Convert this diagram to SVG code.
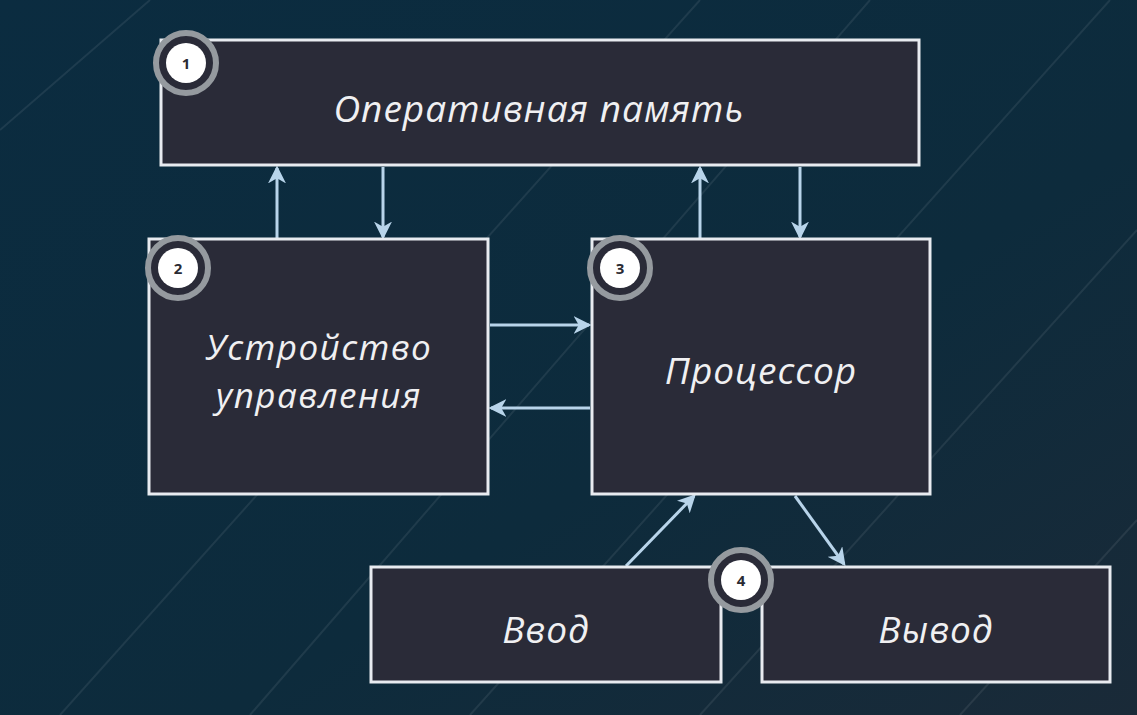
<svg xmlns="http://www.w3.org/2000/svg" width="1137" height="715" viewBox="0 0 1137 715">
<defs>
<linearGradient id="bg" x1="0" y1="0" x2="1" y2="1">
<stop offset="0" stop-color="#0b2c40"/>
<stop offset="0.6" stop-color="#0d2b3c"/>
<stop offset="1" stop-color="#1a2a38"/>
</linearGradient>
<marker id="ah2" viewBox="0 0 14 14" refX="12" refY="7" markerWidth="18" markerHeight="18" markerUnits="userSpaceOnUse" orient="auto">
<path d="M0,0 L14,7 L0,14 L4,7 Z" fill="#b8d4ea"/>
</marker>
</defs>
<style>
.box{fill:#2a2b38;stroke:#e8ebf0;stroke-width:3}
.lbl{font-family:"Open Sans","Noto Sans",sans-serif;font-style:italic;font-size:37px;letter-spacing:1px;fill:#f0f0f2;text-anchor:middle}
.lbl2{font-size:35px;letter-spacing:1.5px}
.ring{fill:#2a2b38;stroke:#959a9f;stroke-width:6}
.dot{fill:#ffffff}
.num{font-family:"Open Sans","Noto Sans",sans-serif;font-weight:bold;font-size:15px;fill:#2a2b33;text-anchor:middle}
.c{stroke:#b8d4ea;stroke-width:3;fill:none;marker-end:url(#ah2)}
.bl{stroke:#ffffff;stroke-opacity:0.08;stroke-width:2}
</style>
<rect width="1137" height="715" fill="url(#bg)"/>
<g id="bglines">
<line class="bl" x1="0" y1="130" x2="150" y2="0"/>
<line class="bl" x1="60" y1="715" x2="700" y2="0"/>
<line class="bl" x1="250" y1="715" x2="870" y2="0"/>
<line class="bl" x1="470" y1="715" x2="1110" y2="0"/>
<line class="bl" x1="700" y1="715" x2="1137" y2="230"/>
<line class="bl" x1="960" y1="715" x2="1137" y2="520"/>
</g>
<g id="connectors">
<line class="c" x1="277" y1="238" x2="277" y2="168"/>
<line class="c" x1="383" y1="167" x2="383" y2="237"/>
<line class="c" x1="700" y1="238" x2="700" y2="168"/>
<line class="c" x1="800" y1="167" x2="800" y2="237"/>
<line class="c" x1="490" y1="325" x2="589" y2="325"/>
<line class="c" x1="590" y1="408" x2="491" y2="408"/>
<line class="c" x1="626" y1="566" x2="694" y2="496"/>
<line class="c" x1="795" y1="496" x2="844" y2="564"/>
</g>
<g id="node1">
<rect class="box" x="161" y="40" width="758" height="125"/>
<text class="lbl" x="539" y="122">Оперативная память</text>
<circle class="ring" cx="186" cy="63" r="30"/>
<circle class="dot" cx="186" cy="63" r="20"/>
<text class="num" x="186" y="68.5">1</text>
</g>
<g id="node2">
<rect class="box" x="149" y="239" width="339" height="255"/>
<text class="lbl lbl2" x="319" y="360">Устройство</text>
<text class="lbl lbl2" x="319" y="408">управления</text>
<circle class="ring" cx="178" cy="268" r="30"/>
<circle class="dot" cx="178" cy="268" r="20"/>
<text class="num" x="178" y="273.5">2</text>
</g>
<g id="node3">
<rect class="box" x="592" y="239" width="338" height="255"/>
<text class="lbl" x="761" y="384">Процессор</text>
<circle class="ring" cx="620" cy="268" r="30"/>
<circle class="dot" cx="620" cy="268" r="20"/>
<text class="num" x="620" y="273.5">3</text>
</g>
<g id="node5">
<rect class="box" x="371" y="567" width="350" height="115"/>
<text class="lbl" x="546" y="643">Ввод</text>
</g>
<g id="node6">
<rect class="box" x="762" y="567" width="348" height="115"/>
<text class="lbl" x="936" y="643">Вывод</text>
</g>
<g id="node4">
<circle class="ring" cx="741" cy="580" r="30"/>
<circle class="dot" cx="741" cy="580" r="20"/>
<text class="num" x="741" y="585.5">4</text>
</g>
</svg>
